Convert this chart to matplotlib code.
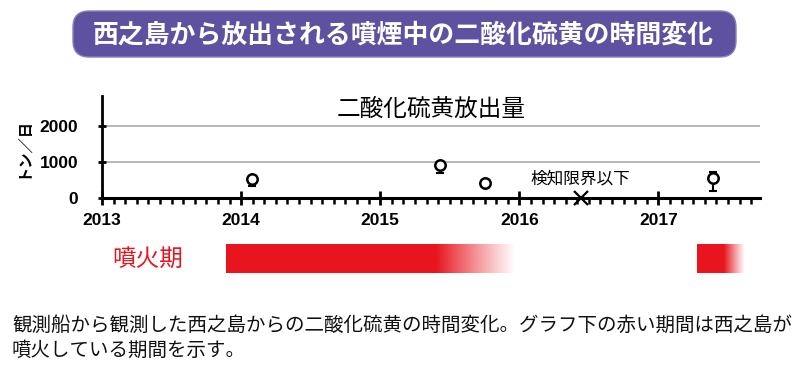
import matplotlib
matplotlib.use("Agg")
import matplotlib.pyplot as plt
import numpy as np
from matplotlib.patches import FancyBboxPatch, Rectangle
from matplotlib.ticker import MultipleLocator, FixedLocator

JP = ['Noto Sans CJK JP', 'DejaVu Sans']
LAT = ['Liberation Sans', 'DejaVu Sans']

# ---- data ----
title_text = "西之島から放出される噴煙中の二酸化硫黄の時間変化"
chart_title = "二酸化硫黄放出量"
ylabel = "トン／日"
caption_lines = ["観測船から観測した西之島からの二酸化硫黄の時間変化。グラフ下の赤い期間は西之島が",
                 "噴火している期間を示す。"]
eruption_label = "噴火期"
below_label = "検知限界以下"

obs_time = [2014.08, 2015.43, 2015.75, 2017.39]
obs_value = [520, 910, 400, 540]
obs_err_low = [190, 220, 0, 340]
obs_err_high = [0, 0, 0, 180]

below_time = [2016.44]
below_value = [0]

eruption_start = [2013.89, 2017.28]
eruption_fade = [2015.40, 2017.47]
eruption_end = [2015.97, 2017.62]

year_ticks = [2013, 2014, 2015, 2016, 2017]
y_ticks = [0, 1000, 2000]
xlim = (2013, 2017.73)
ylim = (0, 2830)

W, H = 809, 369
fig = plt.figure(figsize=(W / 100, H / 100), dpi=100)

# background overlay axes in pixel coordinates
bg = fig.add_axes([0, 0, 1, 1])
bg.set_xlim(0, W)
bg.set_ylim(H, 0)
bg.axis('off')
bg.add_patch(FancyBboxPatch((73, 11), 663, 46, boxstyle="round,pad=0,rounding_size=16",
                            facecolor='#5e52a0', edgecolor='#8a80c0', lw=1))
bg.text(403, 35, title_text, ha='center', va='center', color='white',
        fontsize=18.6, fontweight='bold', family=JP)
bg.text(12, 325, caption_lines[0], ha='left', va='center', fontsize=14.0, family=JP, color='#111111')
bg.text(12, 350, caption_lines[1], ha='left', va='center', fontsize=14.0, family=JP, color='#111111')

# main axes
left, right = 102 / W, 760 / W
bottom, top = 1 - 197.7 / H, 1 - 96 / H
ax = fig.add_axes([left, bottom, right - left, top - bottom])
ax.set_xlim(*xlim)
ax.set_ylim(*ylim)
for s in ['top', 'right']:
    ax.spines[s].set_visible(False)
ax.spines['left'].set_linewidth(2)
ax.spines['bottom'].set_linewidth(2.2)
ax.spines['bottom'].set_zorder(5)
ax.set_facecolor('none')

for yv in y_ticks[1:]:
    ax.axhline(yv, color='#aaaaaa', lw=1.2, zorder=0)

ax.xaxis.set_major_locator(FixedLocator(year_ticks))
ax.xaxis.set_minor_locator(MultipleLocator(1 / 12))
ax.yaxis.set_major_locator(FixedLocator(y_ticks))
ax.tick_params(axis='x', which='major', direction='inout', length=10, width=2, pad=6)
ax.tick_params(axis='x', which='minor', direction='out', length=4, width=1.8)
ax.tick_params(axis='y', which='major', direction='inout', length=6, width=2, pad=14)
ax.set_xticklabels([str(y) for y in year_ticks], fontsize=12.5, fontweight='bold', family=LAT)
ax.set_yticklabels([str(y) for y in y_ticks], fontsize=12.5, fontweight='bold', family=LAT)

ax.errorbar(obs_time, obs_value, yerr=[obs_err_low, obs_err_high], fmt='none',
            ecolor='black', elinewidth=1.5, capsize=3, capthick=1.5, zorder=3)
ax.plot(obs_time, obs_value, 'o', ms=7.5, mfc='white', mec='black', mew=1.8, zorder=4)
ax.plot(below_time, below_value, 'x', ms=10, mec='black', mew=1.6, zorder=6, clip_on=False)
ax.text(below_time[0], 520, below_label, ha='center', va='center', fontsize=12, family=JP)

ax.text(0.5, 0.87, chart_title, transform=ax.transAxes, ha='center', va='center',
        fontsize=17, family=JP)
fig.text(22 / W, 1 - 148 / H, ylabel, rotation=90, ha='center', va='center',
         fontsize=11, fontweight='bold', family=JP)

# eruption axes
ebot, etop = 1 - 273 / H, 1 - 244 / H
eax = fig.add_axes([left, ebot, right - left, etop - ebot])
eax.set_xlim(*xlim)
eax.set_ylim(0, 1)
eax.axis('off')
red = np.array([232, 21, 31]) / 255
for s, f, e in zip(eruption_start, eruption_fade, eruption_end):
    eax.add_patch(Rectangle((s, 0), f - s, 1, facecolor=red, edgecolor='none'))
    n = 200
    grad = np.zeros((1, n, 4))
    grad[..., :3] = red
    grad[0, :, 3] = np.linspace(1, 0, n) ** 1.1
    eax.imshow(grad, extent=[f, e, 0, 1], aspect='auto', interpolation='bilinear')
eax.set_xlim(*xlim)
eax.set_ylim(0, 1)
fig.text(148 / W, 1 - 260 / H, eruption_label, ha='center', va='center', color='#e8151f',
         fontsize=17, family=JP)

fig.savefig('out.png', dpi=100)
